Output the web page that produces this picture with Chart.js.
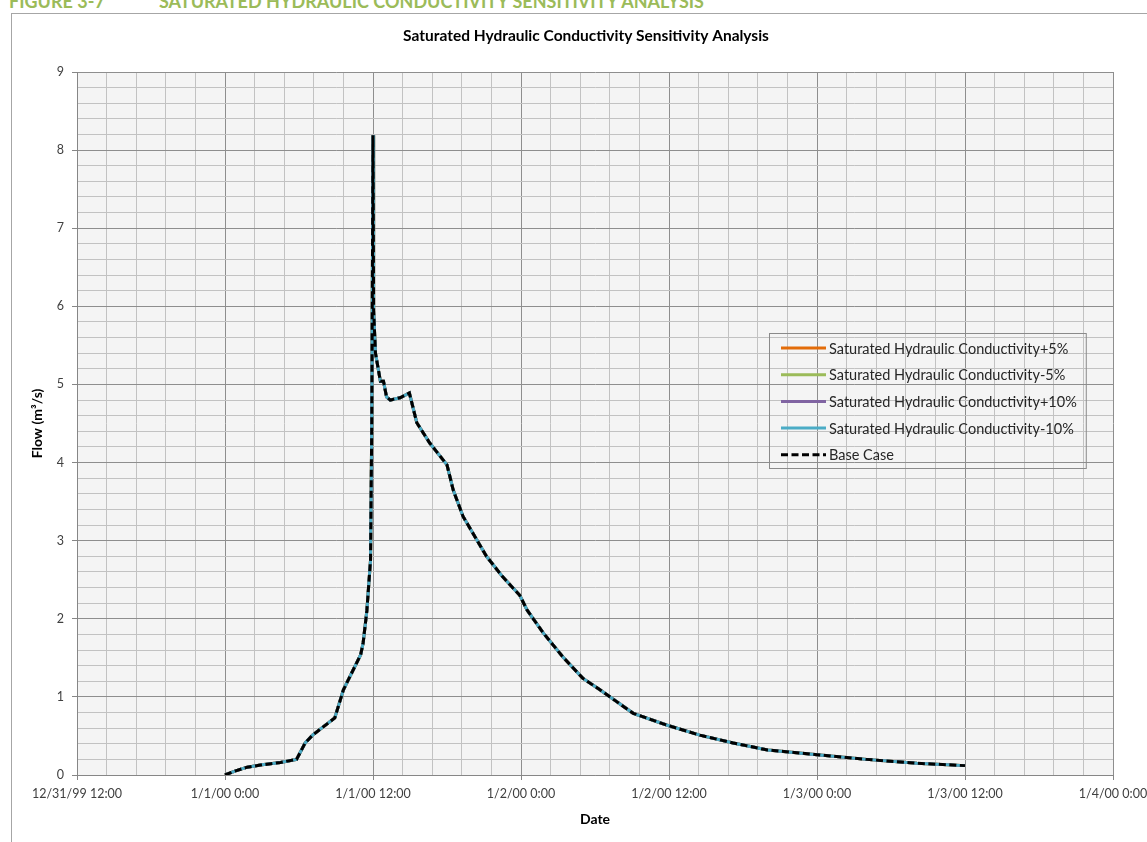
<!DOCTYPE html>
<html>
<head>
<meta charset="utf-8">
<title>Saturated Hydraulic Conductivity Sensitivity Analysis</title>
<script src="https://cdn.jsdelivr.net/npm/chart.js@4.4.0/dist/chart.umd.min.js"></script>
<style>
	html, body { margin: 0; padding: 0; background: #fff; }
	#wrap { position: relative; width: 1147px; height: 842px; overflow: hidden; }
	#frame { position: absolute; left: 11px; top: 13px; width: 1200px; height: 900px; border-left: 1px solid #a6a6a6; border-top: 1px solid #a6a6a6; }
	.hdr { position: absolute; top: -10px; font: bold 18px Lato, sans-serif; color: #9bbb59; white-space: nowrap; }
	canvas { position: absolute; left: 0; top: 0; }
</style>
</head>
<body>
<div id="wrap">
	<div id="frame"></div>
	<div class="hdr" style="left:9px">FIGURE 3-7</div>
	<div class="hdr" style="left:159px">SATURATED HYDRAULIC CONDUCTIVITY SENSITIVITY ANALYSIS</div>
	<canvas id="flow-chart" width="1147" height="842"></canvas>
</div>
<script>
const xTickLabels = ["12/31/99 12:00", "1/1/00 0:00", "1/1/00 12:00", "1/2/00 0:00", "1/2/00 12:00", "1/3/00 0:00", "1/3/00 12:00", "1/4/00 0:00"];
const yTickLabels = ["0", "1", "2", "3", "4", "5", "6", "7", "8", "9"];

// hours after 1/1/00 0:00
const hours = [0, 0.8, 1.8, 3.0, 4.5, 5.8, 6.5, 7.1, 8.9, 9.6, 11.0, 11.2, 11.5, 11.8, 11.9, 12.0,
	12.05, 12.2, 12.6, 12.85, 13.1, 13.4, 14.2, 14.95, 15.55, 16.6, 18.0, 18.5, 19.3, 21.2, 22.5,
	23.9, 24.5, 25.8, 27.4, 29.0, 30.4, 33.1, 35.8, 38.5, 41.2, 44.0, 48.0, 52.0, 56.1, 60.0];

// flow (m3/s), the four sensitivity runs lie on top of the base case
const flowBase = [0, 0.05, 0.10, 0.13, 0.16, 0.20, 0.41, 0.51, 0.73, 1.09, 1.54, 1.69, 2.10, 2.75, 4.50, 8.19,
	5.95, 5.40, 5.04, 5.04, 4.84, 4.80, 4.83, 4.89, 4.51, 4.25, 3.97, 3.65, 3.31, 2.80, 2.54,
	2.30, 2.11, 1.82, 1.51, 1.24, 1.09, 0.79, 0.64, 0.51, 0.41, 0.32, 0.26, 0.20, 0.15, 0.12];
const flowKsPlus5 = flowBase;
const flowKsMinus5 = flowBase;
const flowKsPlus10 = flowBase;
const flowKsMinus10 = flowBase;

const seriesLabels = ["Saturated Hydraulic Conductivity+5%", "Saturated Hydraulic Conductivity-5%",
	"Saturated Hydraulic Conductivity+10%", "Saturated Hydraulic Conductivity-10%", "Base Case"];
const seriesValues = [flowKsPlus5, flowKsMinus5, flowKsPlus10, flowKsMinus10, flowBase];
const seriesColors = ["#E36C09", "#9BBB59", "#8064A2", "#4BACC6", "#000000"];

const isWhole = (v) => Math.abs(v - Math.round(v)) < 1e-6;

const plotDecor = {
	id: 'plotDecor',
	beforeDraw(chart) {
		const { ctx, chartArea: a } = chart;
		ctx.save();
		ctx.fillStyle = '#f4f4f4';
		ctx.fillRect(a.left, a.top, a.right - a.left, a.bottom - a.top);
		ctx.restore();
	},
	afterDraw(chart) {
		const ctx = chart.ctx;
		ctx.save();
		// title
		ctx.fillStyle = '#000';
		ctx.font = 'bold 15.5px Lato';
		ctx.textAlign = 'center';
		ctx.textBaseline = 'middle';
		ctx.fillText('Saturated Hydraulic Conductivity Sensitivity Analysis', 586, 36);

		// legend, no fill like the original
		ctx.font = '14.5px Lato';
		ctx.textAlign = 'left';
		const datasets = chart.data.datasets;
		let maxW = 0;
		datasets.forEach(ds => { maxW = Math.max(maxW, ctx.measureText(ds.label).width); });
		const boxL = 769, boxT = 333, boxB = 468;
		ctx.strokeStyle = '#8a8a8a';
		ctx.lineWidth = 1;
		ctx.strokeRect(boxL + 0.5, boxT + 0.5, 829 + maxW + 9 - boxL, boxB - boxT);
		datasets.forEach((ds, i) => {
			const y = 348 + i * 26.7;
			ctx.strokeStyle = ds.borderColor;
			ctx.lineWidth = 3;
			ctx.setLineDash(ds.borderDash || []);
			ctx.beginPath();
			ctx.moveTo(781, y);
			ctx.lineTo(826, y);
			ctx.stroke();
			ctx.setLineDash([]);
			ctx.fillStyle = '#262626';
			ctx.fillText(ds.label, 829, y + 1);
		});
		ctx.restore();
	}
};

const flowChart = document.querySelector("#flow-chart");

new Chart(flowChart, {
	type: "line",
	data: {
		datasets: seriesLabels.map((label, i) => ({
			label: label,
			data: hours.map((h, j) => ({ x: h, y: seriesValues[i][j] })),
			borderColor: seriesColors[i],
			backgroundColor: seriesColors[i],
			borderWidth: 3,
			borderDash: i === 4 ? [7, 3.5] : [],
			pointRadius: 0,
			tension: 0,
			fill: false,
			order: 5 - i
		}))
	},
	options: {
		responsive: false,
		animation: false,
		layout: { padding: { top: 72, right: 34, left: 0, bottom: 0 } },
		plugins: {
			legend: { display: false },
			title: { display: false },
			tooltip: { enabled: false }
		},
		scales: {
			x: {
				type: 'linear',
				min: -12,
				max: 72,
				afterFit: (scale) => {
					scale.height = 67;
					scale.paddingLeft = 0;
					scale.paddingRight = 0;
				},
				grid: {
					color: (c) => isWhole((c.tick.value + 12) / 12) ? '#8e8e8e' : '#c2c2c2',
					tickColor: (c) => isWhole((c.tick.value + 12) / 12) ? '#868686' : 'rgba(0,0,0,0)',
					tickLength: 5
				},
				border: { color: '#868686' },
				ticks: {
					stepSize: 2.4,
					autoSkip: false,
					maxRotation: 0,
					minRotation: 0,
					padding: 6,
					color: '#404040',
					font: { family: 'Lato', size: 12.5 },
					callback: function (value) {
						const k = (value + 12) / 12;
						return isWhole(k) ? xTickLabels[Math.round(k)] : '';
					}
				},
				title: {
					display: true,
					text: 'Date',
					color: '#000',
					font: { family: 'Lato', size: 14, weight: 'bold' },
					padding: { top: 0, bottom: 14 }
				}
			},
			y: {
				min: 0,
				max: 9,
				afterFit: (scale) => {
					scale.width = 77;
					scale.paddingTop = 0;
					scale.paddingBottom = 0;
				},
				grid: {
					color: (c) => isWhole(c.tick.value) ? '#8e8e8e' : '#c2c2c2',
					tickColor: (c) => isWhole(c.tick.value) ? '#868686' : 'rgba(0,0,0,0)',
					tickLength: 5
				},
				border: { color: '#868686' },
				ticks: {
					stepSize: 0.2,
					autoSkip: false,
					padding: 8,
					color: '#404040',
					font: { family: 'Lato', size: 12.5 },
					callback: function (value) {
						return isWhole(value) ? yTickLabels[Math.round(value)] : '';
					}
				},
				title: {
					display: true,
					text: 'Flow (m³/s)',
					color: '#000',
					font: { family: 'Lato', size: 14, weight: 'bold' },
					padding: { top: 29, bottom: 0 }
				}
			}
		}
	},
	plugins: [plotDecor]
});
</script>
</body>
</html>
